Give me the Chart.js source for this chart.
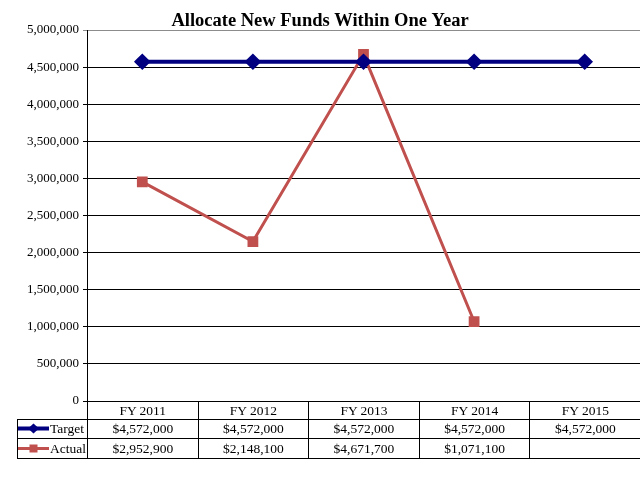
<!DOCTYPE html>
<html>
<head>
<meta charset="utf-8">
<script src="https://cdn.jsdelivr.net/npm/chart.js@4/dist/chart.umd.min.js"></script>
<style>
  body { margin: 0; background: #fff; overflow: hidden; }
  #wrap { position: relative; width: 640px; height: 480px; }
  #allocChart { display: block; }
  #dataTable {
    position: absolute; left: 17px; top: 401px;
    border-collapse: collapse; table-layout: fixed;
    font-family: "Liberation Serif", "Times New Roman", serif; font-size: 13.5px; color: #000;
  }
  #dataTable td { border: 1px solid #000; padding: 0; text-align: center; white-space: nowrap; line-height: 14px; }
  #dataTable td.key { text-align: left; padding-left: 0; }
  #dataTable td.blank { border-top: none; border-left: none; border-bottom: 1px solid #000; }
  #dataTable td.last { border-right: none; }
  #dataTable svg { vertical-align: middle; margin-top: -2px; }
</style>
</head>
<body>
<div id="wrap">
  <canvas id="allocChart" width="640" height="480"></canvas>
  <table id="dataTable"></table>
</div>
<script>
// Dữ liệu
const years = ['FY 2011', 'FY 2012', 'FY 2013', 'FY 2014', 'FY 2015'];
const target = [4572000, 4572000, 4572000, 4572000, 4572000];
const actual = [2952900, 2148100, 4671700, 1071100, null];

const targetColor = '#000080';
const actualColor = '#C0504D';

const fmt = v => v.toLocaleString('en-US');

const ctx = document.getElementById('allocChart').getContext('2d');
const chart = new Chart(ctx, {
    type: 'line',
    data: {
        labels: years,
        datasets: [{
            label: 'Target',
            data: target,
            borderColor: targetColor,
            backgroundColor: targetColor,
            borderWidth: 4,
            pointStyle: 'rectRot',
            pointRadius: 5.5,
            pointHoverRadius: 5.5
        }, {
            label: 'Actual',
            data: actual,
            borderColor: actualColor,
            backgroundColor: actualColor,
            borderWidth: 3,
            pointStyle: 'rect',
            pointRadius: 5.5,
            pointHoverRadius: 5.5
        }]
    },
    options: {
        responsive: false,
        animation: false,
        layout: { autoPadding: false, padding: { left: 0, right: 0, top: 0, bottom: 79 } },
        plugins: {
            legend: { display: false },
            tooltip: { enabled: false },
            title: {
                display: true,
                text: 'Allocate New Funds Within One Year',
                color: '#000',
                font: { family: 'Liberation Serif', size: 18.5, weight: 'bold', lineHeight: 1 },
                padding: { top: 11.5, bottom: 0 }
            }
        },
        scales: {
            x: {
                display: false,
                offset: true
            },
            y: {
                min: 0,
                max: 5000000,
                afterFit: s => { s.width = 87; },
                ticks: {
                    stepSize: 500000,
                    color: '#000',
                    padding: 4,
                    font: { family: 'Liberation Serif', size: 13 },
                    callback: v => fmt(v)
                },
                grid: {
                    color: c => c.tick && c.tick.value === 5000000 ? '#8c8c8c' : '#000',
                    lineWidth: 1,
                    tickLength: 4
                },
                border: { display: true, color: '#000', width: 1 }
            }
        }
    }
});

// Bảng dữ liệu bên dưới biểu đồ
function keySvg(color, diamond) {
    const marker = diamond
        ? `<polygon points="15.5,0.5 21,5.5 15.5,10.5 10,5.5" fill="${color}"/>`
        : `<rect x="11.5" y="1.5" width="8" height="8" fill="${color}"/>`;
    return `<svg width="32" height="11"><line x1="0" y1="5.5" x2="31" y2="5.5" stroke="${color}" stroke-width="${diamond ? 4 : 3}"/>${marker}</svg>`;
}

const area = chart.chartArea;
const colW = (area.right - area.left) / years.length;
const table = document.getElementById('dataTable');
table.style.top = area.bottom + 'px';
table.style.width = (area.right - 17) + 'px';

const rowHeights = [18, 19, 20];
const cls = i => (i === years.length - 1 ? 'last' : '');
let html = `<colgroup><col style="width:${area.left - 17}px">` +
    years.map(() => `<col style="width:${colW}px">`).join('') + '</colgroup>';
html += `<tr style="height:${rowHeights[0]}px"><td class="blank"></td>` +
    years.map((y, i) => `<td class="${cls(i)}">${y}</td>`).join('') + '</tr>';
html += `<tr style="height:${rowHeights[1]}px"><td class="key">${keySvg(targetColor, true)}Target</td>` +
    target.map((v, i) => `<td class="${cls(i)}">${v == null ? '' : '$' + fmt(v)}</td>`).join('') + '</tr>';
html += `<tr style="height:${rowHeights[2]}px"><td class="key">${keySvg(actualColor, false)}Actual</td>` +
    actual.map((v, i) => `<td class="${cls(i)}">${v == null ? '' : '$' + fmt(v)}</td>`).join('') + '</tr>';
table.innerHTML = html;
</script>
</body>
</html>
